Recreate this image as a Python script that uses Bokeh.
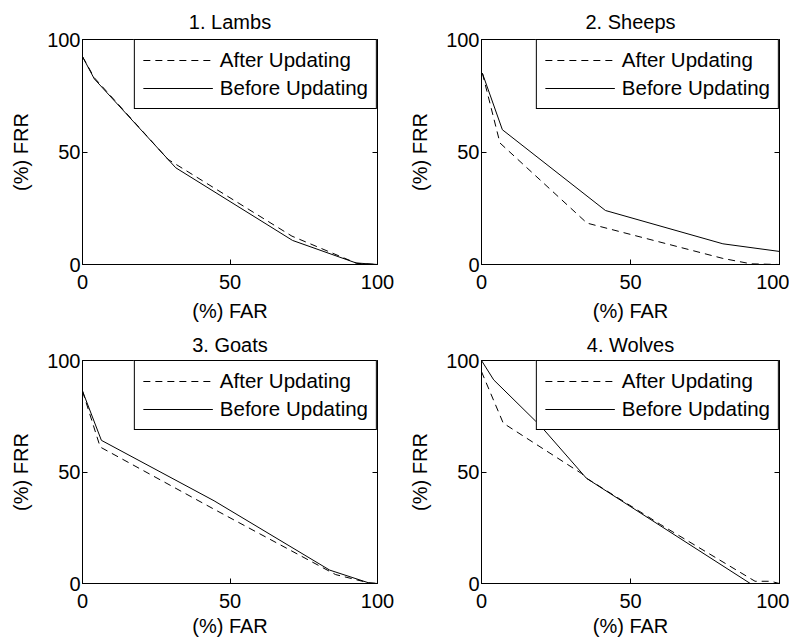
from bokeh.plotting import figure
from bokeh.layouts import column, row
from bokeh.models import Range1d, LinearAxis, FixedTicker, Legend, LegendItem
from bokeh.embed import file_html
from bokeh.resources import INLINE

FONT = "Liberation Sans"

titles = ["1. Lambs", "2. Sheeps", "3. Goats", "4. Wolves"]
legend_labels = ["After Updating", "Before Updating"]
x_label = "(%) FAR"
y_label = "(%) FRR"
ticks = [0, 50, 100]

# 1. Lambs
lambs_after_far = [0, 4, 29, 71, 93, 100]
lambs_after_frr = [92.4, 83, 46.7, 12.6, 0.5, 0]
lambs_before_far = [0, 4, 31.6, 71.2, 92.7, 100]
lambs_before_frr = [92.4, 82.5, 43, 10.7, 0.7, 0]

# 2. Sheeps
sheeps_after_far = [0.3, 6.2, 35.4, 81, 90.4, 100]
sheeps_after_frr = [85, 54, 18.4, 2.7, 0.3, 0]
sheeps_before_far = [0.3, 7, 41.6, 81, 100]
sheeps_before_frr = [85, 59.9, 24, 9.2, 5.8]

# 3. Goats
goats_after_far = [0, 6, 44.6, 85.8, 97, 100]
goats_after_frr = [86.3, 61.2, 33.3, 4, 0.3, 0]
goats_before_far = [0, 6.4, 44.6, 83.8, 97, 100]
goats_before_frr = [86.3, 64.2, 37.1, 6, 0.3, 0]

# 4. Wolves
wolves_after_far = [0, 7.3, 33.5, 35.5, 60, 91.8, 97, 100]
wolves_after_frr = [95, 71.9, 49.4, 47, 26.5, 1, 1, 0]
wolves_before_far = [0, 4.1, 20, 35.2, 90.2, 100]
wolves_before_frr = [100, 91.3, 70.4, 47.2, 0, 0]

series = [
    (lambs_after_far, lambs_after_frr, lambs_before_far, lambs_before_frr),
    (sheeps_after_far, sheeps_after_frr, sheeps_before_far, sheeps_before_frr),
    (goats_after_far, goats_after_frr, goats_before_far, goats_before_frr),
    (wolves_after_far, wolves_after_frr, wolves_before_far, wolves_before_frr),
]


def style_axis(ax, standoff=6, show_labels=True):
    ax.ticker = FixedTicker(ticks=ticks)
    ax.major_tick_in = 5
    ax.major_tick_out = 0
    ax.minor_tick_line_color = None
    ax.major_tick_line_color = "black"
    ax.axis_line_color = "black"
    ax.major_label_text_font = FONT
    ax.major_label_text_color = "black"
    ax.major_label_text_font_size = "20px"
    ax.major_label_standoff = standoff
    if not show_labels:
        ax.major_label_text_font_size = "2px"
        ax.major_label_text_color = None
        ax.major_label_standoff = 0
        ax.axis_line_color = None


def make_fig(i, fw, fh, bl, br, bt, bb, title_standoff, xlab_standoff):
    af, ar, bf, br_ = series[i]
    p = figure(frame_width=fw, frame_height=fh, output_backend="svg",
               toolbar_location=None, x_range=Range1d(0, 100),
               y_range=Range1d(0, 100), x_axis_label=x_label,
               y_axis_label=y_label, min_border_left=bl,
               min_border_right=br, min_border_top=bt, min_border_bottom=bb)
    p.title.text = titles[i]
    p.title.text_font = FONT
    p.title.text_font_size = "20px"
    p.title.text_font_style = "normal"
    p.title.align = "center"
    p.title.text_color = "black"
    p.title.standoff = title_standoff
    p.xgrid.visible = False
    p.ygrid.visible = False
    p.outline_line_color = "black"
    p.outline_line_alpha = 1
    p.background_fill_color = "white"
    p.border_fill_color = "white"
    style_axis(p.xaxis[0], standoff=10)
    style_axis(p.yaxis[0], standoff=2)
    for ax, so in ((p.xaxis[0], xlab_standoff), (p.yaxis[0], 12)):
        ax.axis_label_text_font = FONT
        ax.axis_label_text_font_size = "20px"
        ax.axis_label_text_font_style = "normal"
        ax.axis_label_text_color = "black"
        ax.axis_label_standoff = so
    ra = LinearAxis()
    style_axis(ra, show_labels=False)
    p.add_layout(ra, "right")
    ta = LinearAxis()
    style_axis(ta, show_labels=False)
    p.add_layout(ta, "above")

    r_after = p.line(af, ar, line_color="black", line_width=1, line_dash="7 5")
    r_before = p.line(bf, br_, line_color="black", line_width=1)
    leg = Legend(items=[LegendItem(label=legend_labels[0], renderers=[r_after]),
                        LegendItem(label=legend_labels[1], renderers=[r_before])],
                 location="top_right", margin=0, padding=8, spacing=4,
                 glyph_width=70, glyph_height=24, label_height=24,
                 label_standoff=7, label_text_font=FONT,
                 label_text_font_size="20.5px", label_text_color="black",
                 border_line_color="black", border_line_width=1,
                 border_line_alpha=1, background_fill_color="white",
                 background_fill_alpha=1)
    p.add_layout(leg)
    return p


p1 = make_fig(0, 295, 225, 82, 29, 39, 61, 13, 8)
p2 = make_fig(1, 298, 225, 69, 10, 39, 61, 13, 8)
p3 = make_fig(2, 295, 223, 82, 29, 35, 56, 10, 4)
p4 = make_fig(3, 298, 223, 69, 10, 35, 56, 10, 4)

layout = column(row(p1, p2), row(p3, p4))
open("out.html", "w").write(file_html(layout, INLINE))
